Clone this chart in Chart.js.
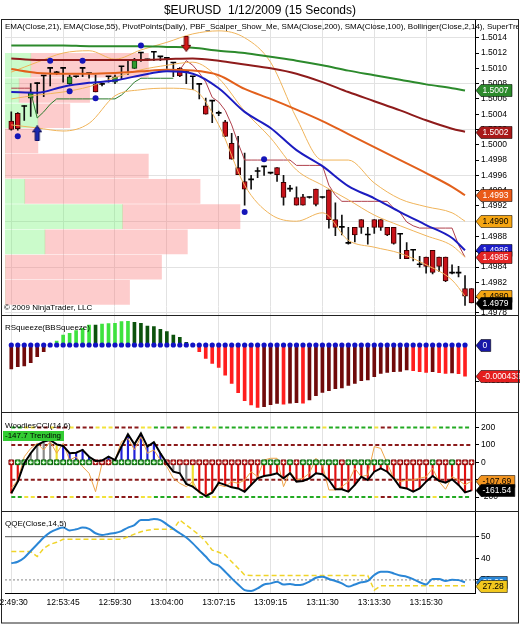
<!DOCTYPE html>
<html>
<head>
<meta charset="utf-8">
<title>$EURUSD 1/12/2009 (15 Seconds)</title>
<script src="https://cdn.jsdelivr.net/npm/chart.js@4.4.1/dist/chart.umd.min.js"></script>
<style>
  html, body { margin: 0; padding: 0; background: #fff; }
  #wrap { position: relative; width: 520px; height: 625px; overflow: hidden;
          font-family: "Liberation Sans", Arial, sans-serif; color: #000; }
  #chart { position: absolute; left: 0; top: 0; }
  .lbl { position: absolute; white-space: nowrap; font-size: 8px; line-height: 10px; }
</style>
</head>
<body>
<div id="wrap">
  <canvas id="chart" width="520" height="625"></canvas>
  <div class="lbl" style="left:0;top:3px;width:520px;text-align:center;font-size:12px;line-height:14px;">$EURUSD&nbsp; 1/12/2009 (15 Seconds)</div>
  <div class="lbl" style="left:5px;top:22px;width:513px;overflow:hidden;">EMA(Close,21), EMA(Close,55), PivotPoints(Daily), PBF_Scalper_Show_Me, SMA(Close,200), SMA(Close,100), Bollinger(Close,2,14), SuperTrend</div>
  <div class="lbl" style="left:4px;top:303px;">© 2009 NinjaTrader, LLC</div>
  <div class="lbl" style="left:5px;top:323px;">RSqueeze(BBSqueeze)</div>
  <div class="lbl" style="left:5px;top:421px;">WoodiesCCI(14,6)</div>
  <div class="lbl" style="left:3px;top:431px;width:59px;padding-left:2px;background:#33cc33;">-147.7 Trending</div>
  <div class="lbl" style="left:5px;top:519px;">QQE(Close,14,5)</div>
</div>
<script>
// time axis (bar index of each labelled tick)
const timeTickIdx = [0, 8, 16, 24, 32, 40, 48, 56, 64];
const timeLabels = ['12:49:30', '12:53:45', '12:59:30', '13:04:00', '13:07:15', '13:09:15', '13:11:30', '13:13:30', '13:15:30'];

// 15 second bars
const opens = [1.50031,1.50041,1.50050,1.50061,1.50080,1.50090,1.50100,1.50094,1.50100,1.50080,
  1.50089,1.50100,1.50093,1.50079,1.50079,1.50089,1.50082,1.50102,1.50110,1.50100,
  1.50120,1.50111,1.50121,1.50115,1.50113,1.50107,1.50100,1.50096,1.50089,1.50079,
  1.50051,1.50057,1.50041,1.50030,1.50002,1.49970,1.49952,1.49954,1.49965,1.49971,
  1.49963,1.49970,1.49951,1.49942,1.49931,1.49932,1.49931,1.49942,1.49931,1.49941,
  1.49902,1.49892,1.49871,1.49892,1.49902,1.49882,1.49902,1.49902,1.49892,1.49892,
  1.49883,1.49862,1.49862,1.49843,1.49853,1.49862,1.49853,1.49853,1.49832,1.49832,
  1.49812,1.49812];
const highs = [1.50043,1.50042,1.50051,1.50080,1.50081,1.50090,1.50100,1.50096,1.50100,1.50091,
  1.50090,1.50100,1.50093,1.50091,1.50080,1.50089,1.50091,1.50102,1.50110,1.50113,
  1.50120,1.50112,1.50121,1.50115,1.50113,1.50107,1.50101,1.50096,1.50089,1.50079,
  1.50061,1.50057,1.50044,1.50032,1.50015,1.50011,1.49989,1.49960,1.49970,1.49971,
  1.49964,1.49970,1.49960,1.49947,1.49945,1.49935,1.49932,1.49942,1.49932,1.49941,
  1.49924,1.49908,1.49892,1.49892,1.49902,1.49892,1.49902,1.49902,1.49892,1.49892,
  1.49883,1.49872,1.49862,1.49854,1.49853,1.49862,1.49853,1.49853,1.49843,1.49841,
  1.49829,1.49812];
const lows = [1.50019,1.50019,1.50032,1.50037,1.50041,1.50063,1.50077,1.50092,1.50082,1.50079,
  1.50088,1.50089,1.50087,1.50069,1.50077,1.50082,1.50080,1.50085,1.50092,1.50100,
  1.50109,1.50110,1.50110,1.50110,1.50100,1.50089,1.50089,1.50080,1.50072,1.50060,
  1.50040,1.50029,1.50038,1.50011,1.49981,1.49961,1.49921,1.49942,1.49957,1.49960,
  1.49962,1.49952,1.49921,1.49939,1.49921,1.49921,1.49930,1.49920,1.49930,1.49891,
  1.49881,1.49882,1.49870,1.49873,1.49884,1.49870,1.49884,1.49888,1.49881,1.49870,
  1.49851,1.49851,1.49848,1.49840,1.49832,1.49831,1.49834,1.49821,1.49831,1.49827,
  1.49790,1.49793];
const closes = [1.50020,1.50021,1.50050,1.50069,1.50080,1.50090,1.50100,1.50094,1.50100,1.50089,
  1.50089,1.50100,1.50093,1.50069,1.50079,1.50089,1.50089,1.50102,1.50110,1.50110,
  1.50120,1.50111,1.50121,1.50115,1.50113,1.50107,1.50090,1.50096,1.50089,1.50079,
  1.50040,1.50057,1.50041,1.50011,1.49981,1.49961,1.49942,1.49954,1.49965,1.49971,
  1.49963,1.49961,1.49931,1.49942,1.49921,1.49921,1.49931,1.49922,1.49931,1.49902,
  1.49892,1.49892,1.49871,1.49882,1.49892,1.49882,1.49892,1.49892,1.49882,1.49871,
  1.49883,1.49851,1.49862,1.49843,1.49841,1.49833,1.49841,1.49822,1.49832,1.49832,
  1.49802,1.49793];

// moving averages and bands, read every 4th bar
const lineIdx = [0,4,8,12,16,20,24,28,32,36,40,44,48,52,56,60,64,68,70];
const sma200 = [1.50130,1.50130,1.50130,1.50129,1.50129,1.50129,1.50128,1.50127,1.50123,1.50120,1.50115,1.50110,1.50104,1.50097,1.50091,1.50085,1.50079,1.50074,1.50071];
const sma100 = [1.50113,1.50111,1.50111,1.50111,1.50111,1.50111,1.50112,1.50113,1.50110,1.50105,1.50100,1.50093,1.50082,1.50069,1.50057,1.50045,1.50032,1.50021,1.50017];
const ema55 = [1.50099,1.50094,1.50093,1.50093,1.50094,1.50096,1.50098,1.50097,1.50091,1.50073,1.50060,1.50046,1.50031,1.50014,1.49997,1.49980,1.49963,1.49945,1.49934];
const ema21 = [1.50069,1.50068,1.50076,1.50081,1.50084,1.50091,1.50096,1.50093,1.50074,1.50043,1.50022,1.49993,1.49972,1.49946,1.49930,1.49912,1.49895,1.49878,1.49862];
const bbUpper = [1.50095,1.50108,1.50120,1.50123,1.50112,1.50124,1.50134,1.50145,1.50149,1.50140,1.50108,1.50035,1.49980,1.49980,1.49950,1.49929,1.49919,1.49911,1.49900];
const bbMiddle = [1.50060,1.50065,1.50069,1.50076,1.50088,1.50098,1.50104,1.50108,1.50087,1.50044,1.50009,1.49967,1.49947,1.49928,1.49908,1.49894,1.49881,1.49868,1.49853];
const bbLower = [1.50026,1.50022,1.50018,1.50028,1.50064,1.50072,1.50074,1.50072,1.50026,1.49947,1.49909,1.49900,1.49911,1.49875,1.49866,1.49858,1.49843,1.49823,1.49802];

// SuperTrend per bar (null where the other side is plotted)
const n = null;
const stUp = [n,n,n,1.50069,1.50035,1.50043,1.50053,1.50060,1.50060,1.50060,
  1.50060,1.50060,1.50060,1.50060,1.50060,1.50060,1.50060,1.50065,1.50073,1.50082,
  1.50087,1.50087,1.50087,1.50087,1.50087,1.50087];
const stDown = [1.50074,1.50074,1.50074,1.50074,n,n,n,n,n,n,
  n,n,n,n,n,n,n,n,n,n,
  n,n,n,n,n,n,1.50098,1.50110,1.50104,1.50094,
  1.50082,1.50062,1.50056,1.50045,1.50026,1.50002,1.49980,1.49980,1.49980,1.49980,
  1.49980,1.49980,1.49980,1.49980,1.49973,1.49973,1.49973,1.49973,1.49973,1.49947,
  1.49934,1.49926,1.49926,1.49926,1.49926,1.49926,1.49926,1.49926,1.49926,1.49917,
  1.49911,1.49899,1.49894,1.49891,1.49891,1.49891,1.49891,1.49891,1.49891,1.49869,
  1.49853];

// swing pivots and signal arrows
const pivotIdx = [1, 6, 9, 11, 13, 20, 36, 39];
const pivotVal = [1.50011, 1.50110, 1.50070, 1.50110, 1.50061, 1.50130, 1.49912, 1.49981];
const buyIdx = [4], buyVal = [1.50015];
const sellIdx = [27], sellVal = [1.50132];

// volume profile (price level, buy part, total)
const profLevels = [1.50104,1.50071,1.50038,1.50005,1.49972,1.49939,1.49906,1.49873,1.49840,1.49807];
const profGreen = [55, 30, 70, 0, 0, 42, 250, 85, 0, 0];
const profTotal = [305, 180, 138, 70, 305, 415, 500, 388, 333, 265];

const priceTicks = [1.4978,1.4980,1.4982,1.4984,1.4986,1.4988,1.4990,1.4992,1.4994,1.4996,1.4998,1.5000,1.5002,1.5004,1.5006,1.5008,1.5010,1.5012,1.5014];

// RSqueeze histogram
const squeeze = [-0.000333,-0.000301,-0.000292,-0.000245,-0.000162,-0.000093,0,0.000056,0.000139,0.000162,
  0.000199,0.000232,0.000278,0.000278,0.000292,0.000296,0.000301,0.000324,0.000329,0.000315,
  0.000301,0.000264,0.000255,0.000218,0.000185,0.000139,0.000106,0.000037,0,-0.000093,
  -0.000185,-0.000255,-0.000310,-0.000417,-0.000532,-0.000662,-0.000773,-0.000833,-0.000866,-0.000857,
  -0.000829,-0.000810,-0.000820,-0.000806,-0.000801,-0.000806,-0.000764,-0.000704,-0.000657,-0.000634,
  -0.000607,-0.000597,-0.000560,-0.000532,-0.000495,-0.000486,-0.000440,-0.000394,-0.000380,-0.000370,
  -0.000366,-0.000347,-0.000357,-0.000370,-0.000380,-0.000370,-0.000384,-0.000394,-0.000389,-0.000398,
  -0.000433];
const squeezeTicks = [-0.0005];

// Woodies CCI
const cci = [-178,-111,-5,52,99,119,128,103,94,52,
  55,71,32,8,10,32,12,90,161,103,
  166,90,115,52,-6,-54,-63,-125,-140,-169,
  -194,-175,-117,-130,-144,-150,-169,-130,-92,-79,
  -73,-63,-92,-63,-111,-107,-92,-63,-69,-102,
  -155,-155,-169,-130,-83,-102,-54,-35,-54,-92,
  -144,-150,-169,-150,-111,-79,-106,-117,-98,-130,
  -173,-161.54];
const turboCci = [-150,-102,32,80,109,71,119,52,109,13,
  32,-25,-63,-169,-6,-15,13,119,137,71,
  147,52,71,13,-25,-92,-121,-140,-111,-178,
  -188,-169,-130,-140,-111,-121,-102,-54,-83,13,
  23,23,-140,-54,-102,-92,-63,23,-15,-159,
  -159,-140,-111,-35,-83,-73,90,80,-6,-92,
  -111,-102,-102,-92,-83,-35,-111,-155,-83,-102,
  -130,-107.69];
const cciPriorRun = -6; // bars below zero before the first bar shown
const lsmaUp = [0,1,1,1,1,1,1,1,1,1,1,1,1,0,0,0,1,1,1,1,1,1,1,1,0,0,0,0,0,0,0,0,0,0,0,0,0,0,0,
  1,1,1,0,1,0,1,1,1,1,1,1,0,1,1,1,1,1,1,1,0,0,0,0,0,0,1,0,0,1,0,0,0];
const sidewinder = ('TTNNFFNFFNFFFNNNFFFFNNTTTFFNTTTNTTTTTTT' + 'TTTTTTTTTNTTTTTTTNFFTTTTTTNTTTTTT').split('');
const cciOuter = [200, -200];
const cciInner = [100, -100];
const cciTicks = [200, 100, 0, -100, -200];

// QQE
const qqeRsi = [37.7,38.4,40.3,43.4,46.5,49.6,52.0,53.4,54.2,52.9,
  53.4,54.2,53.6,51.6,50.8,51.3,51.7,52.6,54.2,55.4,
  57.7,57.7,58.2,57.7,55.7,53.6,51.6,49.6,46.9,43.8,
  40.8,37.7,36.6,33.8,30.7,27.9,25.3,24.9,26.1,27.9,
  28.4,29.2,27.9,28.1,27.6,27.9,29.2,31.0,31.5,30.4,
  29.5,28.4,26.9,27.9,28.9,29.5,32.3,33.8,33.8,33.0,
  32.0,31.5,30.4,28.9,27.9,30.4,30.4,29.5,30.1,29.9,
  28.9];
const qqeTrail = [43.1,43.1,43.1,43.1,40.8,44.6,46.5,47.4,48.8,48.8,
  48.8,48.8,48.8,48.8,48.8,48.8,48.8,48.8,50.0,51.2,
  52.3,53.0,53.4,53.4,53.4,53.4,57.7,55.4,53.1,50.8,
  47.7,43.8,42.8,41.5,38.4,35.4,32.3,32.0,32.0,32.0,
  32.0,32.0,32.0,32.0,32.0,32.0,32.0,32.0,32.0,32.0,
  32.0,32.0,32.0,32.0,32.0,32.0,25.3,27.28,27.28,27.28,
  27.28,27.28,27.28,27.28,27.28,27.28,27.28,27.28,27.28,27.28,
  27.28];
const qqeLevels = [50, 30];
const qqeTicks = [50, 40, 30];

// ---------------------------------------------------------------
const FONT = '"Liberation Sans", Arial, sans-serif';
Chart.defaults.font.family = FONT;
Chart.defaults.font.size = 8.5;
Chart.defaults.color = '#000';
const tickFont = { family: FONT, size: 8.5 };
const xMin = -0.97, xMax = 71.54;

const pts = (xs, ys) => ys.map((y, k) => ({ x: xs[k], y }));
const perBar = ys => ys.map((y, i) => ({ x: i, y }));
const fmt4 = v => v.toFixed(4);
const fmt2 = v => v.toFixed(2);

function arrowImage(up, fill, edge) {
  const c = document.createElement('canvas');
  c.width = 10; c.height = 16;
  const g = c.getContext('2d');
  g.beginPath();
  if (up) {
    g.moveTo(5, 0.5); g.lineTo(9.5, 6.5); g.lineTo(7, 6.5); g.lineTo(7, 15.5);
    g.lineTo(3, 15.5); g.lineTo(3, 6.5); g.lineTo(0.5, 6.5);
  } else {
    g.moveTo(5, 15.5); g.lineTo(9.5, 9.5); g.lineTo(7, 9.5); g.lineTo(7, 0.5);
    g.lineTo(3, 0.5); g.lineTo(3, 9.5); g.lineTo(0.5, 9.5);
  }
  g.closePath();
  g.fillStyle = fill; g.fill();
  g.strokeStyle = edge; g.lineWidth = 1; g.stroke();
  return c;
}

function priceLine(vals, color, width, tag) {
  return {
    type: 'line', yAxisID: 'yP', order: 2, data: pts(lineIdx, vals),
    borderColor: color, borderWidth: width, pointRadius: 0,
    cubicInterpolationMode: 'monotone', tag
  };
}

// colours derived from the data
const candleFill = opens.map((o, i) => closes[i] > o ? '#2f9a2f' : closes[i] < o ? '#c8121a' : '#000');
const candleEdge = opens.map((o, i) => closes[i] > o ? '#0b3d0b' : '#3a0000');
const candleEdgeW = opens.map((o, i) => closes[i] === o ? 0 : 1);

const squeezeColors = squeeze.map((v, i) => {
  const p = i > 0 ? squeeze[i - 1] : v;
  if (v > 0) return v > p ? '#3ee23e' : '#0c520c';
  if (v < 0) return v < p ? '#ff1e1e' : '#700a0a';
  return 'rgba(0,0,0,0)';
});

let run = cciPriorRun;
const cciColors = cci.map(v => {
  const s = v >= 0 ? 1 : -1;
  run = Math.sign(run) === s ? run + s : s;
  const k = Math.abs(run);
  if (k >= 6) return s > 0 ? '#2020d8' : '#e01010';
  if (k === 5) return '#f0e030';
  return '#8a8a8a';
});
const swColor = { T: '#22aa22', N: '#f2e23a', F: '#8b1a1a' };

const isMajorPrice = v => Math.round((v - 1.4978) / 0.0002) % 3 === 0;

function yAxis(weight, min, max, ticks, fmt, gridColor) {
  return {
    type: 'linear', axis: 'y', position: 'right', stack: 'panes', stackWeight: weight,
    min, max, offset: false,
    afterBuildTicks: s => { s.ticks = ticks.map(v => ({ value: v })); },
    afterFit: s => { s.width = 45; },
    ticks: { callback: v => fmt(v), font: tickFont, color: '#000', padding: 2, autoSkip: false },
    grid: { offset: false, color: gridColor || 'rgba(0,0,0,0)', tickColor: '#000', tickLength: 4 },
    border: { display: true, color: '#000' }
  };
}

const tagPlugin = {
  id: 'tags',
  afterDatasetsDraw(chart) {
    const ctx = chart.ctx;
    const x0 = chart.chartArea.right + 1;
    const list = chart.data.datasets.filter(d => d.tag).sort((a, b) => a.tag.z - b.tag.z);
    ctx.save();
    ctx.font = '8.5px ' + FONT;
    ctx.textBaseline = 'middle';
    ctx.textAlign = 'left';
    list.forEach(d => {
      let v = d.tag.value;
      if (v === undefined) {
        const p = d.data.filter(q => q && q.y !== null && q.y !== undefined);
        v = p[p.length - 1].y;
      }
      const y = Math.round(chart.scales[d.yAxisID].getPixelForValue(v)) + 0.5;
      const txt = d.tag.fmt(v);
      const w = ctx.measureText(txt).width + 5;
      ctx.beginPath();
      ctx.moveTo(x0, y);
      ctx.lineTo(x0 + 5, y - 6);
      ctx.lineTo(x0 + 5 + w, y - 6);
      ctx.lineTo(x0 + 5 + w, y + 6);
      ctx.lineTo(x0 + 5, y + 6);
      ctx.closePath();
      ctx.fillStyle = d.tag.bg; ctx.fill();
      ctx.strokeStyle = 'rgba(0,0,0,0.55)'; ctx.lineWidth = 1; ctx.stroke();
      ctx.fillStyle = d.tag.fg;
      ctx.fillText(txt, x0 + 6.5, y + 0.5);
    });
    ctx.restore();
  }
};

const framePlugin = {
  id: 'frame',
  afterDraw(chart) {
    const ctx = chart.ctx, s = chart.scales;
    ctx.save();
    ctx.strokeStyle = '#222';
    ctx.lineWidth = 1;
    ctx.strokeRect(1.5, chart.chartArea.top - 0.5, 517, 623.5 - chart.chartArea.top);
    [s.yS.top, s.yC.top, s.yQ.top].forEach(t => {
      const y = Math.round(t) - 0.5;
      ctx.beginPath(); ctx.moveTo(1, y); ctx.lineTo(519, y); ctx.stroke();
    });
    ctx.restore();
  }
};

const datasets = [
  // volume profile behind everything
  { type: 'bar', indexAxis: 'y', xAxisID: 'xv', yAxisID: 'yP', order: 20, grouped: false,
    data: profLevels.map((p, k) => ({ x: [0, profGreen[k]], y: p })),
    backgroundColor: 'rgba(110,245,110,0.36)', barThickness: 24, borderWidth: 0 },
  { type: 'bar', indexAxis: 'y', xAxisID: 'xv', yAxisID: 'yP', order: 20, grouped: false,
    data: profLevels.map((p, k) => ({ x: [profGreen[k], profTotal[k]], y: p })),
    backgroundColor: 'rgba(250,120,120,0.38)', barThickness: 24, borderWidth: 0 },

  priceLine(sma200, '#2c8a2c', 2, { z: 1, bg: '#2c8a2c', fg: '#fff', fmt: fmt4 }),
  priceLine(sma100, '#8e1b1b', 2, { z: 2, bg: '#a81818', fg: '#fff', fmt: fmt4 }),
  priceLine(ema55, '#e2601c', 2, { z: 3, bg: '#ea5a18', fg: '#fff', fmt: fmt4 }),
  priceLine(bbUpper, '#f0b45a', 1, { z: 4, bg: '#f5a512', fg: '#000', fmt: fmt4 }),
  priceLine(bbMiddle, '#f0b45a', 1),
  priceLine(bbLower, '#f0b45a', 1, { z: 7, bg: '#f5a512', fg: '#000', fmt: fmt4 }),
  { ...priceLine(ema21, '#1c1cc0', 2, { z: 5, bg: '#1c1cc8', fg: '#fff', fmt: fmt4 }), order: 1 },
  { type: 'line', yAxisID: 'yP', order: 2, data: perBar(stUp), borderColor: '#2a7a2a',
    borderWidth: 1, pointRadius: 0, spanGaps: false },
  { type: 'line', yAxisID: 'yP', order: 2, data: perBar(stDown), borderColor: '#b0404c',
    borderWidth: 1, pointRadius: 0, spanGaps: false,
    tag: { z: 6, bg: '#e42424', fg: '#fff', fmt: fmt4 } },

  // candles
  { type: 'bar', yAxisID: 'yP', order: 5, grouped: false, barThickness: 5, minBarLength: 1,
    data: opens.map((o, i) => ({ x: i, y: [Math.min(o, closes[i]), Math.max(o, closes[i])] })),
    backgroundColor: candleFill, borderColor: candleEdge, borderWidth: candleEdgeW, borderSkipped: false },
  { type: 'bar', yAxisID: 'yP', order: 6, grouped: false, barThickness: 1, minBarLength: 1,
    data: lows.map((l, i) => ({ x: i, y: [l, highs[i]] })), backgroundColor: '#111',
    tag: { z: 8, value: closes[closes.length - 1], bg: '#000', fg: '#fff', fmt: fmt4 } },

  { type: 'line', yAxisID: 'yP', order: 0, showLine: false, data: pts(pivotIdx, pivotVal),
    pointRadius: 3, pointBackgroundColor: '#1515b8', pointBorderWidth: 0 },
  { type: 'line', yAxisID: 'yP', order: 0, showLine: false, data: pts(buyIdx, buyVal),
    pointStyle: arrowImage(true, '#1c2ab0', '#0a0a55') },
  { type: 'line', yAxisID: 'yP', order: 0, showLine: false, data: pts(sellIdx, sellVal),
    pointStyle: arrowImage(false, '#d41a1a', '#5a0000') },

  // RSqueeze
  { type: 'bar', yAxisID: 'yS', order: 3, grouped: false, barThickness: 3, data: perBar(squeeze),
    backgroundColor: squeezeColors,
    tag: { z: 11, bg: '#e41e1e', fg: '#fff', fmt: v => v.toFixed(6) } },
  { type: 'line', yAxisID: 'yS', order: 1, showLine: false, data: squeeze.map((v, i) => ({ x: i, y: 0 })),
    pointRadius: 2.6, pointBackgroundColor: '#1212c4', pointBorderWidth: 0,
    tag: { z: 10, bg: '#1818a8', fg: '#fff', fmt: v => String(v) } },

  // Woodies CCI
  ...cciOuter.map(lv => ({ type: 'line', yAxisID: 'yC', order: 6, data: sidewinder.map((s, i) => ({ x: i, y: lv })),
    borderWidth: 2, borderDash: [4, 2.5], pointRadius: 0,
    segment: { borderColor: c => swColor[sidewinder[c.p0DataIndex]] } })),
  ...cciInner.map(lv => ({ type: 'line', yAxisID: 'yC', order: 6, data: sidewinder.map((s, i) => ({ x: i, y: lv })),
    borderWidth: 2, borderDash: [4, 2.5], pointRadius: 0, borderColor: '#8b1a1a' })),
  { type: 'bar', yAxisID: 'yC', order: 5, grouped: false, barThickness: 1.5, data: perBar(cci),
    backgroundColor: cciColors },
  { type: 'line', yAxisID: 'yC', order: 3, data: perBar(turboCci), borderColor: '#eea448',
    borderWidth: 1, pointRadius: 0,
    tag: { z: 20, bg: '#f29420', fg: '#000', fmt: fmt2 } },
  { type: 'line', yAxisID: 'yC', order: 0, data: perBar(cci), borderColor: '#000',
    borderWidth: 2, pointRadius: 0,
    tag: { z: 21, bg: '#000', fg: '#fff', fmt: fmt2 } },
  { type: 'line', yAxisID: 'yC', order: 1, showLine: false, data: lsmaUp.map((u, i) => ({ x: i, y: 0 })),
    pointStyle: 'rect', pointRadius: 3.3, pointBorderWidth: 1,
    pointBackgroundColor: lsmaUp.map(u => u ? '#28b428' : '#e02020'),
    pointBorderColor: lsmaUp.map(u => u ? '#0c5a0c' : '#7a0a0a') },
  { type: 'line', yAxisID: 'yC', order: 0, showLine: false, data: lsmaUp.map((u, i) => ({ x: i, y: 0 })),
    pointStyle: 'cross', pointRadius: 1.8, pointBorderWidth: 1, pointBorderColor: '#f4fff4' },

  // QQE
  { type: 'line', yAxisID: 'yQ', order: 4, data: [{ x: xMin, y: qqeLevels[0] }, { x: xMax, y: qqeLevels[0] }],
    borderColor: '#555', borderWidth: 1, pointRadius: 0 },
  { type: 'line', yAxisID: 'yQ', order: 4, data: [{ x: xMin, y: qqeLevels[1] }, { x: xMax, y: qqeLevels[1] }],
    borderColor: '#888', borderWidth: 1, borderDash: [2, 2], pointRadius: 0 },
  { type: 'line', yAxisID: 'yQ', order: 1, data: perBar(qqeRsi), borderColor: '#2a86d6',
    borderWidth: 2, pointRadius: 0, cubicInterpolationMode: 'monotone',
    tag: { z: 30, bg: '#2a86d6', fg: '#fff', fmt: fmt2 } },
  { type: 'line', yAxisID: 'yQ', order: 2, data: perBar(qqeTrail), borderColor: '#f0d428',
    borderWidth: 1.5, borderDash: [5, 3], pointRadius: 0,
    tag: { z: 31, bg: '#f2c81e', fg: '#000', fmt: fmt2 } }
];

new Chart(document.getElementById('chart'), {
  data: { datasets },
  options: {
    responsive: false,
    animation: false,
    devicePixelRatio: 1,
    events: [],
    layout: { padding: { left: 3, top: 20, right: 0, bottom: 0 } },
    plugins: { legend: { display: false }, tooltip: { enabled: false } },
    scales: {
      x: {
        type: 'linear', axis: 'x', position: 'bottom', min: xMin, max: xMax, offset: false,
        afterBuildTicks: s => { s.ticks = timeTickIdx.map(v => ({ value: v })); },
        afterFit: s => { s.height = 32; s.paddingLeft = 0; s.paddingRight = 0; },
        ticks: {
          callback: v => { const k = timeTickIdx.indexOf(v); return k < 0 ? '' : timeLabels[k]; },
          font: tickFont, color: '#000', padding: 5, maxRotation: 0, autoSkip: false
        },
        grid: { offset: false, color: '#e2e2e2', drawTicks: false },
        border: { display: true, color: '#000' }
      },
      xv: { type: 'linear', axis: 'x', position: 'top', display: false, min: 0, max: 1000, offset: false },
      yP: yAxis(295.7, 1.497764, 1.501632, priceTicks, fmt4,
        c => (c.tick && isMajorPrice(c.tick.value)) ? '#e2e2e2' : 'rgba(0,0,0,0)'),
      yS: yAxis(97.3, -0.000944, 0.000407, squeezeTicks, v => v.toFixed(4)),
      yC: yAxis(98.7, -283.9, 283.3, cciTicks, v => String(v)),
      yQ: yAxis(81.3, 23.94, 61.57, qqeTicks, v => String(v))
    }
  },
  plugins: [tagPlugin, framePlugin]
});
</script>
</body>
</html>
